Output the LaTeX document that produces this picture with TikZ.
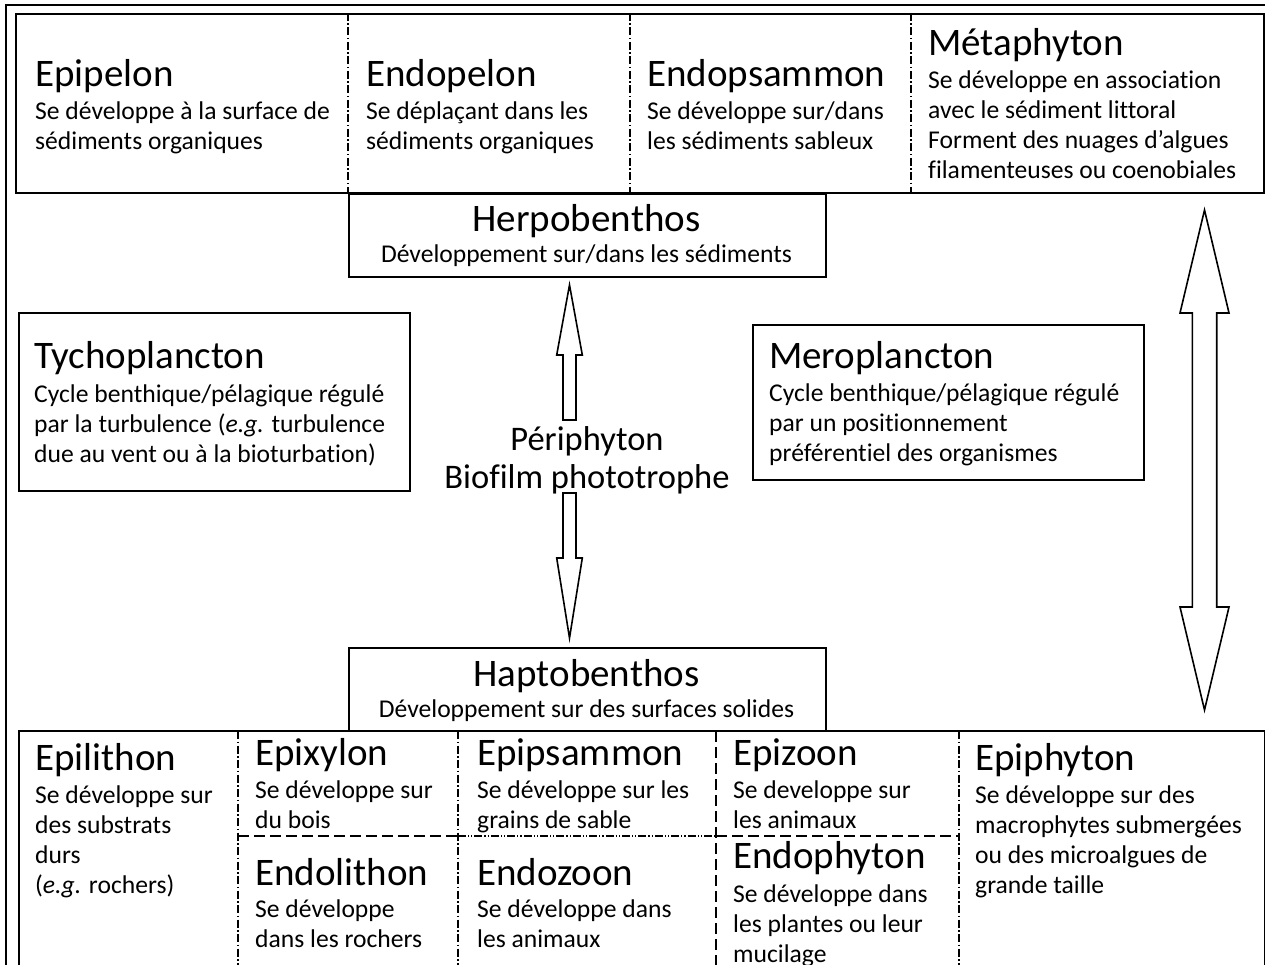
\documentclass[tikz,border=0pt]{standalone}
\usepackage{fontspec}
\setmainfont[Ligatures=NoCommon]{Carlito}
\usetikzlibrary{positioning, calc}

\tikzset{
  ttl/.style={font=\fontsize{39}{45}\selectfont, inner sep=0pt, anchor=base west},
  txt/.style={font=\fontsize{25.6}{30}\selectfont, inner sep=0pt, anchor=base west, align=left},
  mid/.style={font=\fontsize{34.5}{40}\selectfont, inner sep=0pt, anchor=base},
  framebox/.style={draw, line width=2pt, inner sep=0pt, anchor=north west},
  dashdot/.style={line width=1.4pt, dash pattern=on 8pt off 2.5pt on 1.5pt off 2.5pt},
  longdash/.style={line width=1.4pt, dash pattern=on 11pt off 5pt},
  dashdotdot/.style={line width=1.2pt, dash pattern=on 8pt off 2pt on 1.2pt off 2pt on 1.2pt off 2pt},
  blockarrow/.style={draw, line width=1.6pt, line join=miter, fill=white}
}

\begin{document}
\begin{tikzpicture}[x=1pt, y=-1pt]
\useasboundingbox (0,0) rectangle (1265,965);
\clip (0,0) rectangle (1265,965);
\draw[line width=2pt] (6,5) rectangle (1290,990);

% boxes
\node[framebox, minimum width=1248, minimum height=179] (topbox) at (15,13) {};
\node[framebox, minimum width=477, minimum height=83] (herpo) at (348,193) {};
\node[framebox, minimum width=391, minimum height=178] (tycho) at (18,312) {};
\node[framebox, minimum width=391, minimum height=155] (mero) at (752,324) {};
\node[framebox, minimum width=477, minimum height=83] (hapto) at (348,647) {};
\node[framebox, minimum width=1246, minimum height=270] (botbox) at (18,730) {};

% separators
\draw[dashdot] (348,13) -- (348,192);
\draw[dashdot] (630,13) -- (630,192);
\draw[dashdot] (911,13) -- (911,192);
\draw[dashdot] (238,731) -- (238,965);
\draw[dashdot] (458,731) -- (458,965);
\draw[longdash] (716,731) -- (716,965);
\draw[dashdot] (959,731) -- (959,965);
\draw[longdash] (238,836) -- (458,836);
\draw[dashdotdot] (458,836) -- (716,836);
\draw[longdash] (716,836) -- (959,836);

% arrows
\coordinate (upTip) at ($(herpo.south)+(-18,7)$);
\draw[blockarrow] (upTip) -- ++(12.8,70) -- ++(-6.3,0) -- ++(0,65) -- ++(-13,0) -- ++(0,-65) -- ++(-6.3,0) -- cycle;
\coordinate (downTip) at ($(hapto.north)+(-18,-9)$);
\draw[blockarrow] (downTip) -- ++(12.8,-80) -- ++(-6.3,0) -- ++(0,-65) -- ++(-13,0) -- ++(0,65) -- ++(-6.3,0) -- cycle;
\coordinate (dblTop) at (1204.5,210);
\draw[blockarrow] (dblTop) -- ++(24.5,103) -- ++(-12.3,0) -- ++(0,294) -- ++(12.3,0) -- ++(-24.5,103)
  -- ++(-24.5,-103) -- ++(12.3,0) -- ++(0,-294) -- ++(-12.3,0) -- cycle;

% top row (body nodes sit on the baseline of their last line)
\node[ttl] (epipelon) at (35,87) {Epipelon};
\node[txt] at (35,150) {Se développe à la surface de\\sédiments organiques};
\node[ttl] (endopelon) at (366,87) {Endopelon};
\node[txt] at (366,150) {Se déplaçant dans les\\sédiments organiques};
\node[ttl] (endopsammon) at (647,87) {Endopsammon};
\node[txt] at (647,150) {Se développe sur/dans\\les sédiments sableux};
\node[ttl] (metaphyton) at (928,56) {Métaphyton};
\node[txt] at (928,179) {Se développe en association\\avec le sédiment littoral\\Forment des nuages d’algues\\filamenteuses ou coenobiales};

\node[ttl, anchor=base] (herpobenthos) at (586.5,232) {Herpobenthos};
\node[txt, anchor=base] at (586.5,263) {Développement sur/dans les sédiments};

% middle
\node[ttl] (tychoplancton) at (34,368) {Tychoplancton};
\node[txt] at (34,462) {Cycle benthique/pélagique régulé\\par la turbulence (\textit{e.g.} turbulence\\due au vent ou à la bioturbation)};
\node[ttl] (meroplancton) at (769,368) {Meroplancton};
\node[txt] at (769,461) {Cycle benthique/pélagique régulé\\par un positionnement\\préférentiel des organismes};

\node[mid] (periphyton) at (587,450) {Périphyton};
\node[mid] (biofilm) at (587,488) {Biofilm phototrophe};

% bottom row
\node[ttl, anchor=base] (haptobenthos) at (586.5,686) {Haptobenthos};
\node[txt, anchor=base] at (586.5,717) {Développement sur des surfaces solides};

\node[ttl] (epilithon) at (35,770) {Epilithon};
\node[txt] at (35,893) {Se développe sur\\des substrats\\durs\\(\textit{e.g.} rochers)};
\node[ttl] (epixylon) at (255,765) {Epixylon};
\node[txt] at (255,828) {Se développe sur\\du bois};
\node[ttl] (endolithon) at (255,885) {Endolithon};
\node[txt] at (255,947) {Se développe\\dans les rochers};
\node[ttl] (epipsammon) at (477,765) {Epipsammon};
\node[txt] at (477,828) {Se développe sur les\\grains de sable};
\node[ttl] (endozoon) at (477,885) {Endozoon};
\node[txt] at (477,947) {Se développe dans\\les animaux};
\node[ttl] (epizoon) at (733,765) {Epizoon};
\node[txt] at (733,828) {Se developpe sur\\les animaux};
\node[ttl] (endophyton) at (733,868) {Endophyton};
\node[txt] at (733,962) {Se développe dans\\les plantes ou leur\\mucilage};
\node[ttl] (epiphyton) at (975,770) {Epiphyton};
\node[txt] at (975,893) {Se développe sur des\\macrophytes submergées\\ou des microalgues de\\grande taille};
\end{tikzpicture}
\end{document}
